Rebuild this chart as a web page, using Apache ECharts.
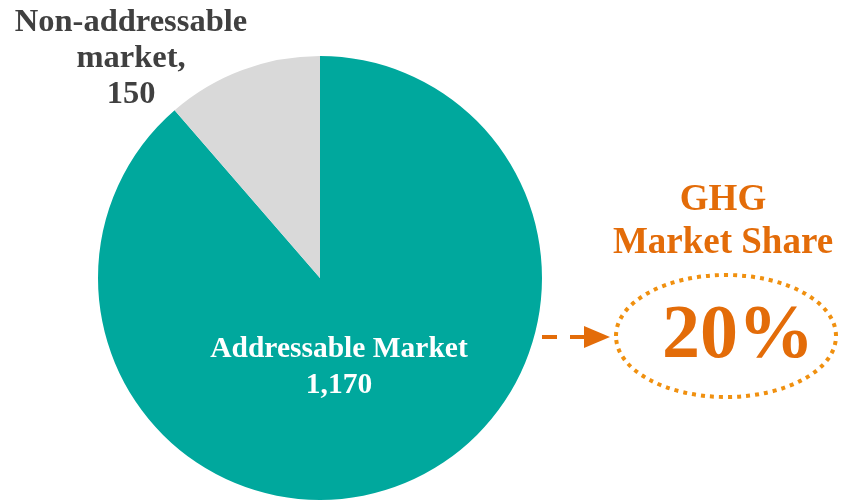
<!DOCTYPE html>
<html>
<head>
<meta charset="utf-8">
<script src="https://cdn.jsdelivr.net/npm/echarts@6/dist/echarts.min.js"></script>
<style>
  html, body { margin: 0; padding: 0; background: #fff; }
  #main { width: 842px; height: 502px; }
</style>
</head>
<body>
<div id="main"></div>
<script>
// pie data
const categories = ['Addressable Market', 'Non-addressable market,'];
const values = [1170, 150];
const sliceColors = ['#00A89D', '#D9D9D9'];
// callout text
const shareTitle = ['GHG', 'Market Share'];
const shareValue = '20%';

const serif = '"Liberation Serif", "Times New Roman", serif';
const orange = '#E36C09';

const myChart = echarts.init(document.getElementById('main'));

// label positions per slice
const labelPos = [
    { x: 339, y: 367 },
    { x: 131, y: 59 }
];

const option = {
    animation: false,
    series: [
        {
            type: 'pie',
            center: [320, 278],
            radius: 222,
            startAngle: 90,
            clockwise: true,
            silent: true,
            labelLine: { show: false },
            label: {
                show: true,
                position: 'inside',
                fontFamily: serif,
                fontWeight: 'bold',
                fontSize: 29.5,
                lineHeight: 36,
                color: '#fff',
                align: 'center',
                formatter: function (p) {
                    return p.name + '\n' + p.value.toLocaleString('en-US');
                }
            },
            labelLayout: function (p) {
                return {
                    x: labelPos[p.dataIndex].x,
                    y: labelPos[p.dataIndex].y,
                    align: 'center',
                    verticalAlign: 'middle'
                };
            },
            data: [
                { name: categories[0], value: values[0], itemStyle: { color: sliceColors[0] } },
                {
                    name: categories[1], value: values[1], itemStyle: { color: sliceColors[1] },
                    label: {
                        color: '#404040',
                        fontSize: 32.5,
                        lineHeight: 36,
                        formatter: function (p) {
                            return 'Non-addressable\nmarket,\n' + p.value;
                        }
                    }
                }
            ]
        }
    ],
    graphic: [
        // dashed arrow shaft
        {
            type: 'line',
            shape: { x1: 542, y1: 337, x2: 586, y2: 337 },
            style: { stroke: orange, lineWidth: 4, lineDash: [15, 13] }
        },
        // arrow head
        {
            type: 'polygon',
            shape: { points: [[584, 326], [610, 337], [584, 348]] },
            style: { fill: orange }
        },
        // dotted ellipse
        {
            type: 'ellipse',
            shape: { cx: 726, cy: 336, rx: 110, ry: 61 },
            style: { fill: 'none', stroke: '#F0900F', lineWidth: 4, lineDash: [4, 5] }
        },
        {
            type: 'text',
            x: 723, y: 222,
            style: {
                text: shareTitle.join('\n'),
                fontFamily: serif, fontWeight: 'bold', fontSize: 37, lineHeight: 43,
                fill: orange, align: 'center', verticalAlign: 'middle'
            }
        },
        {
            type: 'text',
            x: 738, y: 337,
            style: {
                text: shareValue,
                fontFamily: serif, fontWeight: 'bold', fontSize: 76,
                fill: orange, align: 'center', verticalAlign: 'middle'
            }
        }
    ]
};

myChart.setOption(option);
</script>
</body>
</html>
